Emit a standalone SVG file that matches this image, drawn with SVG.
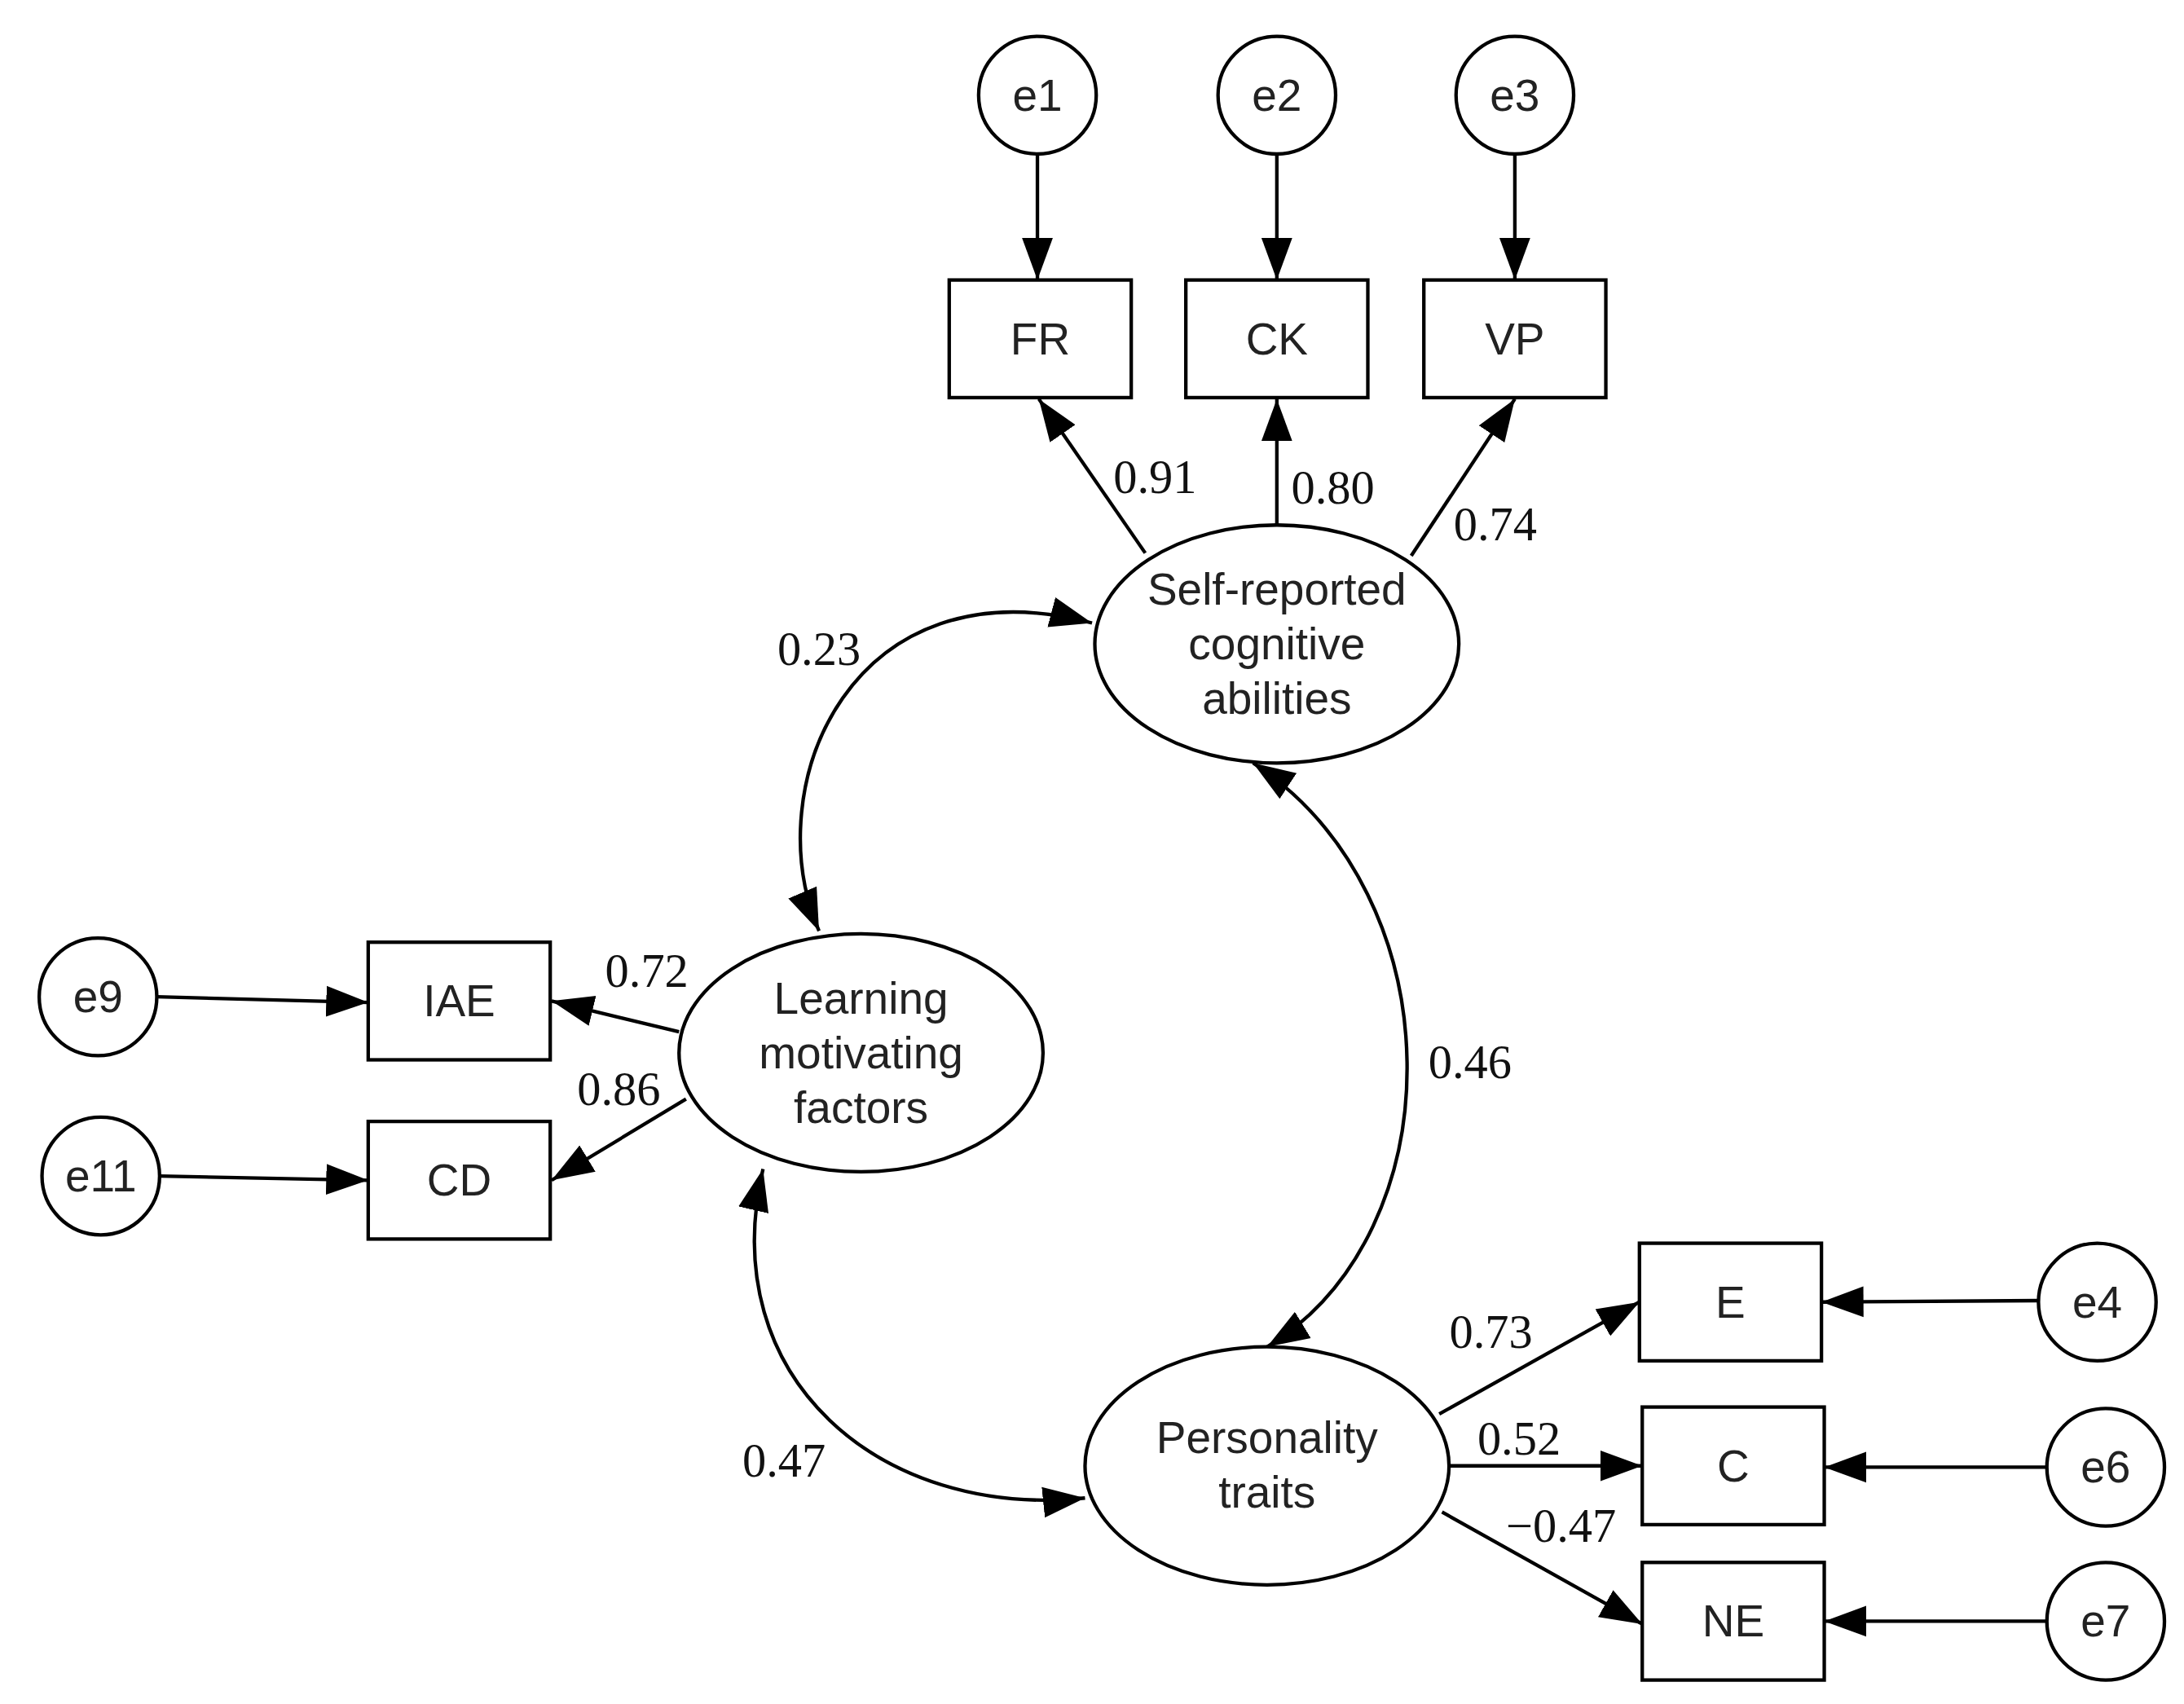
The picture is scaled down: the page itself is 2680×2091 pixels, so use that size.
<svg xmlns="http://www.w3.org/2000/svg" width="2680" height="2091" viewBox="0 0 2680 2091">
<style>
.n{fill:#fff;stroke:#000;stroke-width:2.5}
.t{font-family:"Liberation Sans",Arial,sans-serif;font-size:32px;text-anchor:middle;fill:#222}
.l{font-family:"Liberation Serif","Times New Roman",serif;font-size:34px;text-anchor:middle;fill:#111}
.c{fill:none;stroke:#000;stroke-width:2.5}
</style>
<defs>
<marker id="a" markerUnits="userSpaceOnUse" markerWidth="32" markerHeight="24" refX="30" refY="11" orient="auto-start-reverse" viewBox="0 0 32 22"><path d="M0,0 L30,11 L0,22 Z" fill="#000"/></marker>
</defs>
<rect width="2680" height="2091" fill="#fff"/>
<g transform="scale(1.718)">
<g id="connectors" class="c">
<line x1="741" y1="110" x2="741" y2="200" marker-end="url(#a)"/>
<line x1="912" y1="110" x2="912" y2="200" marker-end="url(#a)"/>
<line x1="1082" y1="110" x2="1082" y2="200" marker-end="url(#a)"/>
<line x1="818" y1="395" x2="742" y2="285" marker-end="url(#a)"/>
<line x1="912" y1="375" x2="912" y2="285" marker-end="url(#a)"/>
<line x1="1008" y1="397" x2="1082" y2="285" marker-end="url(#a)"/>
<line x1="112" y1="712" x2="263" y2="716" marker-end="url(#a)"/>
<line x1="114" y1="840" x2="263" y2="843" marker-end="url(#a)"/>
<line x1="485" y1="737" x2="394" y2="715" marker-end="url(#a)"/>
<line x1="490" y1="785" x2="394" y2="843" marker-end="url(#a)"/>
<line x1="1028" y1="1010" x2="1171" y2="930" marker-end="url(#a)"/>
<line x1="1035" y1="1047" x2="1173" y2="1047" marker-end="url(#a)"/>
<line x1="1030" y1="1080" x2="1173" y2="1160" marker-end="url(#a)"/>
<line x1="1456" y1="929" x2="1301" y2="930" marker-end="url(#a)"/>
<line x1="1462" y1="1048" x2="1303" y2="1048" marker-end="url(#a)"/>
<line x1="1462" y1="1158" x2="1303" y2="1158" marker-end="url(#a)"/>
<path d="M780,445 C610,400 540,560 585,665" marker-start="url(#a)" marker-end="url(#a)"/>
<path d="M895,545 C1040,640 1040,880 905,962" marker-start="url(#a)" marker-end="url(#a)"/>
<path d="M545,835 C510,985 630,1085 775,1070" marker-start="url(#a)" marker-end="url(#a)"/>
</g>
<g id="e1"><circle class="n" cx="741" cy="68" r="42"/><text class="t" x="741" y="79">e1</text></g>
<g id="e2"><circle class="n" cx="912" cy="68" r="42"/><text class="t" x="912" y="79">e2</text></g>
<g id="e3"><circle class="n" cx="1082" cy="68" r="42"/><text class="t" x="1082" y="79">e3</text></g>
<g id="FR"><rect class="n" x="678" y="200" width="130" height="84"/><text class="t" x="743" y="253">FR</text></g>
<g id="CK"><rect class="n" x="847" y="200" width="130" height="84"/><text class="t" x="912" y="253">CK</text></g>
<g id="VP"><rect class="n" x="1017" y="200" width="130" height="84"/><text class="t" x="1082" y="253">VP</text></g>
<g id="SRCA"><ellipse class="n" cx="912" cy="460" rx="130" ry="85"/><text class="t" x="912" y="432">Self-reported</text><text class="t" x="912" y="471">cognitive</text><text class="t" x="912" y="510">abilities</text></g>
<g id="LMF"><ellipse class="n" cx="615" cy="752" rx="130" ry="85"/><text class="t" x="615" y="724">Learning</text><text class="t" x="615" y="763">motivating</text><text class="t" x="615" y="802">factors</text></g>
<g id="PT"><ellipse class="n" cx="905" cy="1047" rx="130" ry="85"/><text class="t" x="905" y="1038">Personality</text><text class="t" x="905" y="1077">traits</text></g>
<g id="IAE"><rect class="n" x="263" y="673" width="130" height="84"/><text class="t" x="328" y="726">IAE</text></g>
<g id="CD"><rect class="n" x="263" y="801" width="130" height="84"/><text class="t" x="328" y="854">CD</text></g>
<g id="e9"><circle class="n" cx="70" cy="712" r="42"/><text class="t" x="70" y="723">e9</text></g>
<g id="e11"><circle class="n" cx="72" cy="840" r="42"/><text class="t" x="72" y="851">e11</text></g>
<g id="E"><rect class="n" x="1171" y="888" width="130" height="84"/><text class="t" x="1236" y="941">E</text></g>
<g id="C"><rect class="n" x="1173" y="1005" width="130" height="84"/><text class="t" x="1238" y="1058">C</text></g>
<g id="NE"><rect class="n" x="1173" y="1116" width="130" height="84"/><text class="t" x="1238" y="1169">NE</text></g>
<g id="e4"><circle class="n" cx="1498" cy="930" r="42"/><text class="t" x="1498" y="941">e4</text></g>
<g id="e6"><circle class="n" cx="1504" cy="1048" r="42"/><text class="t" x="1504" y="1059">e6</text></g>
<g id="e7"><circle class="n" cx="1504" cy="1158" r="42"/><text class="t" x="1504" y="1169">e7</text></g>
<g id="labels">
<text class="l" x="825" y="352">0.91</text>
<text class="l" x="952" y="360">0.80</text>
<text class="l" x="1068" y="386">0.74</text>
<text class="l" x="585" y="475">0.23</text>
<text class="l" x="1050" y="770">0.46</text>
<text class="l" x="560" y="1055">0.47</text>
<text class="l" x="462" y="705">0.72</text>
<text class="l" x="442" y="789">0.86</text>
<text class="l" x="1065" y="963">0.73</text>
<text class="l" x="1085" y="1039">0.52</text>
<text class="l" x="1115" y="1101">−0.47</text>
</g>
</g>
</svg>
